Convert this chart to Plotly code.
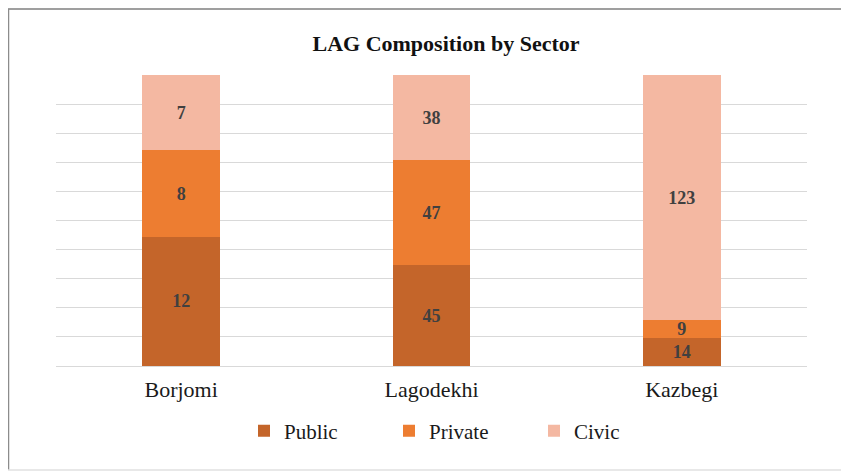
import plotly.graph_objects as go

categories = ["Borjomi", "Lagodekhi", "Kazbegi"]
public = [12, 45, 14]
private = [8, 47, 9]
civic = [7, 38, 123]

colors = {"Public": "#C4652A", "Private": "#ED7D31", "Civic": "#F4B8A2"}
# page body adds an 8px offset, so the figure is slightly smaller
W, H = 841, 464
L, R, T, B = 48, 42, 67, 106
pw, ph = W - L - R, H - T - B

fig = go.Figure()
for name, vals in [("Public", public), ("Private", private), ("Civic", civic)]:
    fig.add_trace(go.Bar(
        name=name, x=categories, y=vals, text=vals,
        texttemplate="<b>%{text}</b>", textposition="inside", textangle=0,
        constraintext="none",
        insidetextanchor="middle", marker_color=colors[name],
        marker_line_width=0,
        textfont=dict(family="Liberation Serif", size=18, color="#404040"),
        hoverinfo="skip",
    ))

def px_x(p):
    return (p - L) / pw

def px_y(p):
    return (H - B - p) / ph

fig.update_layout(
    width=W, height=H,
    barmode="stack", barnorm="percent", bargap=0.69,
    margin=dict(l=L, r=R, t=T, b=B, autoexpand=False),
    paper_bgcolor="white", plot_bgcolor="white",
    title=dict(text="<b>LAG Composition by Sector</b>", x=438 / W, xref="container",
               xanchor="center", y=1 - 35 / H, yanchor="middle",
               font=dict(family="Liberation Serif", size=22, color="#111111")),
    xaxis=dict(showgrid=False, showline=True, linecolor="#D9D9D9", linewidth=1,
               ticks="outside", ticklen=4, tickcolor="rgba(0,0,0,0)",
               tickfont=dict(family="Liberation Serif", size=22, color="#1a1a1a")),
    yaxis=dict(range=[0, 100], dtick=10, showgrid=True, gridcolor="#D9D9D9", gridwidth=1,
               showticklabels=False, zeroline=False),
    showlegend=True,
    legend=dict(orientation="h", xref="container", yref="container",
                x=236 / W, xanchor="left", y=(H - 423) / H, yanchor="middle",
                bgcolor="rgba(0,0,0,0)",
                font=dict(family="Liberation Serif", size=21, color="#1a1a1a"),
                itemwidth=30, entrywidth=100, entrywidthmode="pixels",
                traceorder="normal", itemclick=False),
    shapes=[
        dict(type="line", xref="paper", yref="paper", x0=px_x(0), x1=px_x(W + 5),
             y0=px_y(1), y1=px_y(1), line=dict(color="#7f7f7f", width=1.5)),
        dict(type="line", xref="paper", yref="paper", x0=px_x(0.5), x1=px_x(0.5),
             y0=px_y(1), y1=px_y(462), line=dict(color="#8c8c8c", width=1.5)),
        dict(type="line", xref="paper", yref="paper", x0=px_x(0), x1=px_x(W + 5),
             y0=px_y(462), y1=px_y(462), line=dict(color="#e0e0e0", width=1.5)),
    ],
)

fig.write_html("out.html")
